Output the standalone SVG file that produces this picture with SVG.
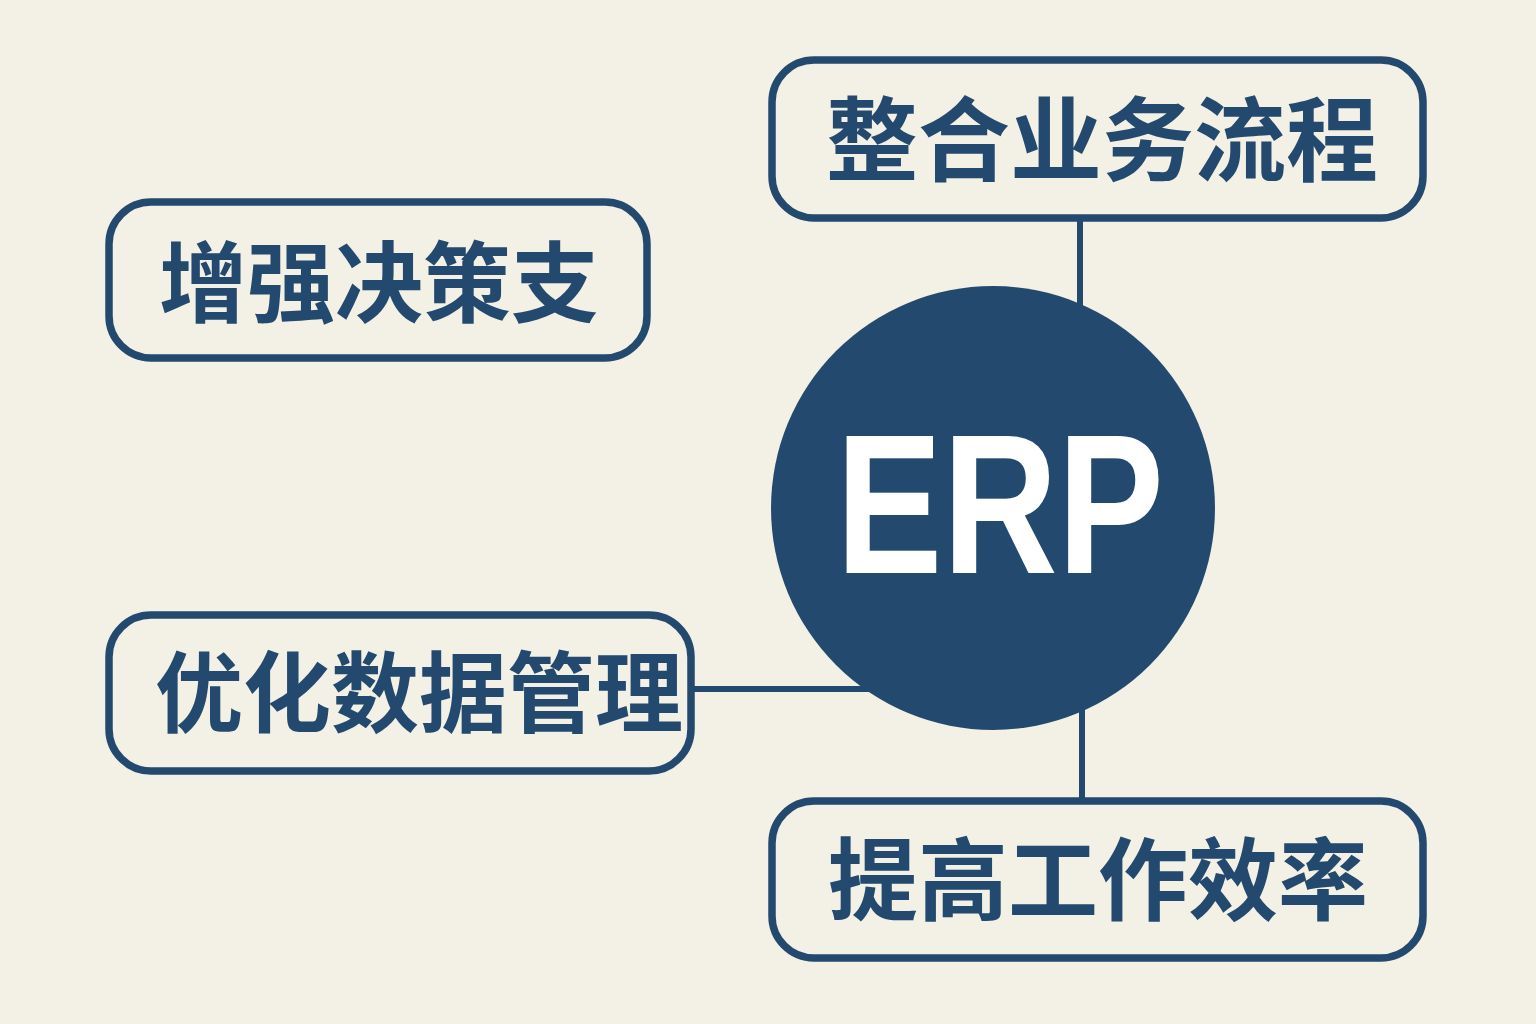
<svg xmlns="http://www.w3.org/2000/svg" width="1536" height="1024" viewBox="0 0 1536 1024">
<style>
.box{fill:#f3f0e5;stroke:#234a6e;stroke-width:7.5}
.lbl{font-family:"Noto Sans CJK SC","Noto Sans",sans-serif;font-weight:700;fill:#234a6e;text-anchor:middle;dominant-baseline:central}
.con{stroke:#234a6e;stroke-width:6;fill:none}
</style>
<rect width="1536" height="1024" fill="#f3f0e5"/>
<g id="connectors">
<line class="con" x1="1080" y1="218" x2="1080" y2="310"/>
<line class="con" x1="1082" y1="705" x2="1082" y2="800"/>
<line class="con" x1="691" y1="689" x2="875" y2="689"/>
</g>
<g id="erp">
<circle cx="993" cy="508" r="222" fill="#234a6e"/>
<text x="1000" y="573" font-family="Liberation Sans, Arial, sans-serif" font-weight="700" font-size="198" fill="#ffffff" text-anchor="middle" textLength="328" lengthAdjust="spacingAndGlyphs">ERP</text>
</g>
<g id="node-integrate">
<rect class="box" x="772" y="60" width="651" height="158" rx="42"/>
<text class="lbl" x="1102" y="133" font-size="92">整合业务流程</text>
</g>
<g id="node-decision">
<rect class="box" x="109" y="202" width="538" height="156" rx="42"/>
<text class="lbl" x="379" y="276" font-size="88">增强决策支</text>
</g>
<g id="node-data">
<rect class="box" x="109" y="615" width="582" height="156" rx="42"/>
<text class="lbl" x="419" y="686" font-size="88">优化数据管理</text>
</g>
<g id="node-efficiency">
<rect class="box" x="772" y="801" width="651" height="157" rx="42"/>
<text class="lbl" x="1098" y="874" font-size="90">提高工作效率</text>
</g>
</svg>
